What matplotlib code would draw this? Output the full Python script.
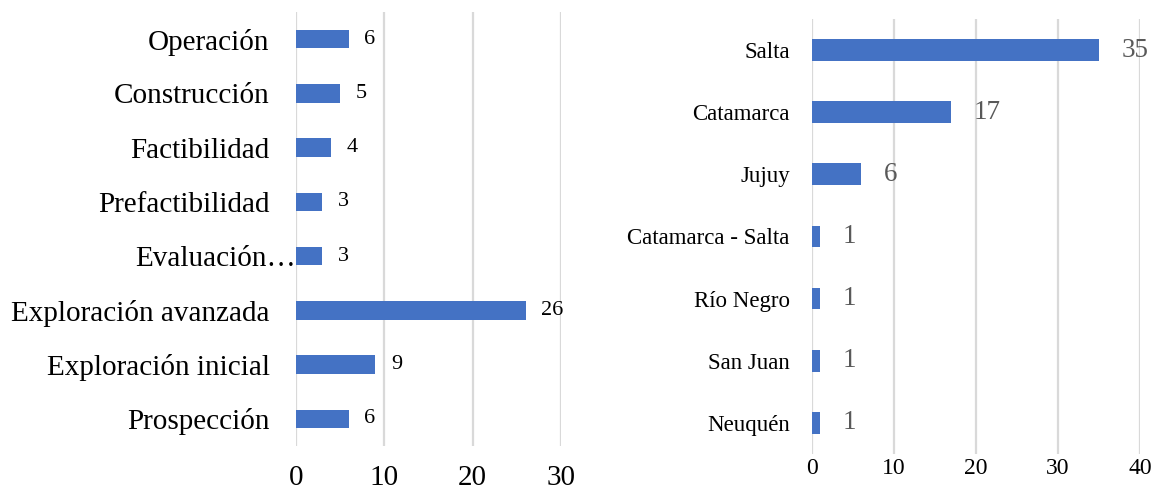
import matplotlib.pyplot as plt
from matplotlib.transforms import ScaledTranslation

# Projects by stage (left) and by province (right)
etapas = ['Prospección', 'Exploración inicial', 'Exploración avanzada', 'Evaluación…',
          'Prefactibilidad', 'Factibilidad', 'Construcción', 'Operación']
etapas_n = [6, 9, 26, 3, 3, 4, 5, 6]

provincias = ['Neuquén', 'San Juan', 'Río Negro', 'Catamarca - Salta',
              'Jujuy', 'Catamarca', 'Salta']
provincias_n = [1, 1, 1, 1, 6, 17, 35]

BLUE = '#4472C4'
GRID = '#D9D9D9'
plt.rcParams['font.family'] = ['Liberation Serif', 'DejaVu Serif']

fig = plt.figure(figsize=(11.69, 4.91), dpi=100)
ax1 = fig.add_axes([0.2532, 0.0916, 0.2267, 0.884])
ax2 = fig.add_axes([0.6946, 0.0754, 0.2806, 0.886])


def style(ax, xmax, step):
    ax.set_xlim(0, xmax)
    ax.set_xticks(range(0, xmax + 1, step))
    for s in ax.spines.values():
        s.set_visible(False)
    ax.tick_params(length=0)
    ax.grid(axis='x', color=GRID, linewidth=1.6)
    ax.set_axisbelow(True)


# left panel
y1 = range(len(etapas))
ax1.barh(y1, etapas_n, height=0.34, color=BLUE)
ax1.set_ylim(-0.5, len(etapas) - 0.5)
style(ax1, 30, 10)
ax1.set_yticks(list(y1))
ax1.set_yticklabels(etapas, fontsize=21)
ax1.tick_params(axis='y', pad=19)
ax1.tick_params(axis='x', labelsize=21, pad=14)
for lab in ax1.get_yticklabels():
    if lab.get_text().startswith('Evaluación'):
        lab.set_transform(lab.get_transform() + ScaledTranslation(26 / 100, 0, fig.dpi_scale_trans))
for y, v in zip(y1, etapas_n):
    ax1.annotate(str(v), (v, y), xytext=(11, 0), textcoords='offset points',
                 va='center', ha='left', fontsize=16, color='black')

# right panel
y2 = range(len(provincias))
ax2.barh(y2, provincias_n, height=0.35, color=BLUE)
ax2.set_ylim(-0.5, len(provincias) - 0.5)
style(ax2, 40, 10)
ax2.set_yticks(list(y2))
ax2.set_yticklabels(provincias, fontsize=16.5)
ax2.tick_params(axis='y', pad=16)
ax2.tick_params(axis='x', labelsize=17, pad=3)
for y, v in zip(y2, provincias_n):
    ax2.annotate(str(v), (v, y), xytext=(16, 0), textcoords='offset points',
                 va='center', ha='left', fontsize=19.5, color='#595959')

fig.savefig('out.png', dpi=100, facecolor='white')
